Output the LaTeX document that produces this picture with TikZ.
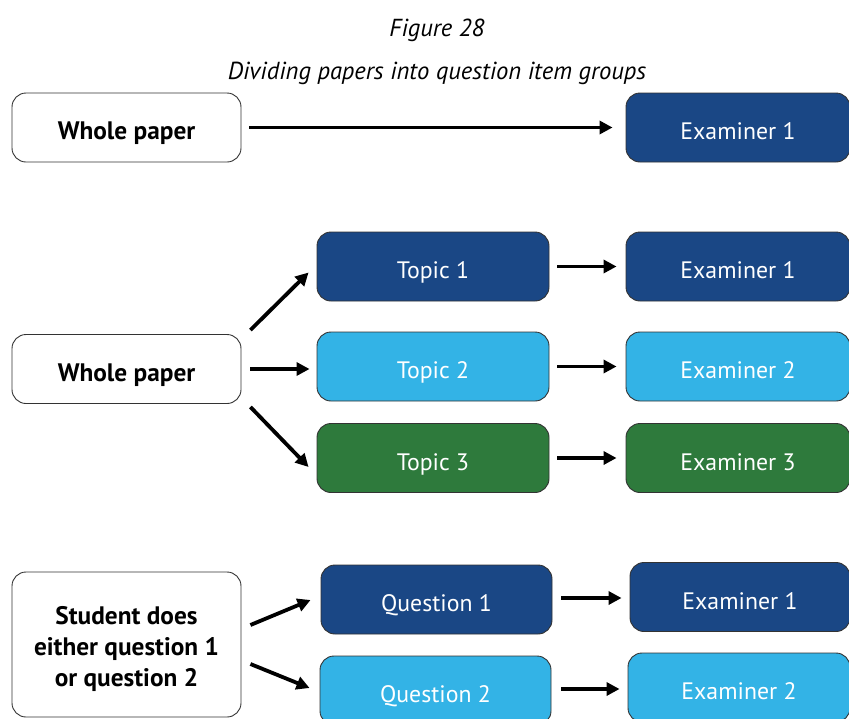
\documentclass[tikz,border=0pt]{standalone}
\usepackage{fontspec}
\setmainfont{PT Sans}
\usetikzlibrary{arrows.meta,calc}
\definecolor{navy}{HTML}{1A4785}
\definecolor{sky}{HTML}{33B3E6}
\definecolor{leaf}{HTML}{2E7A3C}
\definecolor{edge}{HTML}{333333}
\begin{document}
\begin{tikzpicture}[x=1pt,y=-1pt,
  box/.style={draw=edge,line width=0.9pt,rounded corners=14pt,inner sep=0pt,
    minimum height=69pt,text height=24pt,text depth=0pt,
    font=\fontsize{23.8}{26}\selectfont},
  srcbox/.style={box,fill=white,minimum width=229pt,
    font=\fontsize{25.3}{31}\selectfont\bfseries,align=center},
  topicbox/.style={box,minimum width=232pt,text=white},
  exambox/.style={box,minimum width=224pt,text=white},
  flow/.style={line width=3.8pt,-{Triangle[length=13pt,width=13pt]}},
  caption/.style={font=\fontsize{24.6}{28}\selectfont\itshape}
]
\useasboundingbox (0,0) rectangle (849,718);
\clip (0,0) rectangle (849,718);

% titles
\node[caption] (fig) at (437,30.5) {Figure 28};
\node[caption] (sub) at (437,73) {Dividing papers into question item groups};

% first row: whole paper to one examiner
\node[srcbox] (wpA) at (126.5,127.5) {Whole paper};
\node[exambox,fill=navy] (exA) at (738,127.5) {Examiner 1};
\draw[flow,shorten <=8pt,shorten >=13pt] (wpA.east) -- (exA.west);

% second row: split by topic
\node[srcbox] (wpB) at (126.5,369) {Whole paper};
\node[topicbox,fill=navy] (tA) at (433,266.5) {Topic 1};
\node[topicbox,fill=sky]  (tB) at (433,366.5) {Topic 2};
\node[topicbox,fill=leaf] (tC) at (433,458) {Topic 3};
\node[exambox,fill=navy] (eA) at (738,266.5) {Examiner 1};
\node[exambox,fill=sky]  (eB) at (738,366.5) {Examiner 2};
\node[exambox,fill=leaf] (eC) at (738,458) {Examiner 3};
\draw[flow] ([shift={(9,-39)}]wpB.east) -- ([shift={(-8,6)}]tA.west);
\draw[flow] ([shift={(9,0)}]wpB.east) -- ([shift={(-7,2.5)}]tB.west);
\draw[flow] ([shift={(9,38)}]wpB.east) -- ([shift={(-8,9)}]tC.west);
\draw[flow,shorten <=8pt,shorten >=9pt] (tA.east) -- (eA.west);
\draw[flow,shorten <=8pt,shorten >=9pt] (tB.east) -- (eB.west);
\draw[flow,shorten <=8pt,shorten >=9pt] (tC.east) -- (eC.west);

% third row: optional questions
\node[srcbox,minimum height=145pt,text height=,text depth=] (stu) at (126.5,644.5)
  {\rule{0pt}{28pt}Student does\\either question 1\\or question 2};
\node[topicbox,minimum width=231pt,fill=navy] (qA) at (436.5,599.5) {Question 1};
\node[topicbox,minimum width=231pt,fill=sky]  (qB) at (435.5,690.5) {Question 2};
\node[exambox,minimum width=220pt,fill=navy] (fA) at (740,597) {Examiner 1};
\node[exambox,minimum width=222pt,fill=sky]  (fB) at (739,687.5) {Examiner 2};
\draw[flow] ([shift={(9,-19.5)}]stu.east) -- ([shift={(-10,0.5)}]qA.west);
\draw[flow] ([shift={(9,19.5)}]stu.east) -- ([shift={(-10,-2.5)}]qB.west);
\draw[flow,shorten <=9pt,shorten >=8pt]
  ([yshift=1.5pt]qA.east) -- ([yshift=1.5pt]qA.east -| fA.west);
\draw[flow,shorten <=10pt,shorten >=8pt]
  ([yshift=1.5pt]qB.east) -- ([yshift=1.5pt]qB.east -| fB.west);
\end{tikzpicture}
\end{document}
